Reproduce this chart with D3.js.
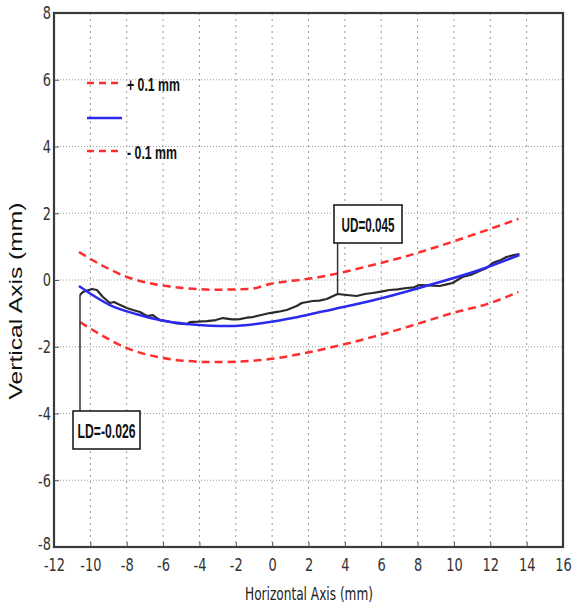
<!DOCTYPE html>
<html lang="en">
<head>
  <meta charset="UTF-8" />
  <title>Profile deviation</title>
  <script src="https://d3js.org/d3.v7.min.js"></script>
  <style>
    html, body { margin: 0; padding: 0; background: #fff; }
    svg { display: block; }
    .tick-label { font-family: 'DejaVu Sans', sans-serif; font-size: 18px; fill: #333; }
    .axis-title { font-family: 'DejaVu Sans', sans-serif; font-size: 17px; fill: #222; }
    .note { font-family: 'Liberation Sans', Arial, sans-serif; font-weight: bold; fill: #111; }
  </style>
</head>
<body>
  <div id="chart"></div>
  <script>
    // ticks
    const xTicks = [-12, -10, -8, -6, -4, -2, 0, 2, 4, 6, 8, 10, 12, 14, 16];
    const yTicks = [-8, -6, -4, -2, 0, 2, 4, 6, 8];

    // measured profile (black)
    const measX = [-10.57, -10.41, -9.91, -9.64, -9.31, -8.92, -8.7, -8.48, -7.99, -7.66, -7.27, -6.89, -6.56, -6.18, -5.79, -5.35, -4.69, -4.53, -4.1, -3.59, -3.1, -2.71, -2.2, -1.78, -1.4, -1.07, -0.6, -0.13, 0.35, 0.8, 1.35, 1.63, 2.23, 2.6, 3.0, 3.6, 4.1, 4.65, 5.1, 5.53, 6.0, 6.46, 6.9, 7.4, 7.8, 8.11, 8.6, 9.21, 9.6, 9.92, 10.47, 11.0, 11.41, 11.8, 12.12, 12.5, 12.89, 13.3, 13.6];
    const measY = [-0.45, -0.36, -0.27, -0.30, -0.51, -0.69, -0.66, -0.72, -0.84, -0.90, -0.96, -1.08, -1.05, -1.20, -1.23, -1.29, -1.32, -1.26, -1.25, -1.23, -1.20, -1.14, -1.18, -1.17, -1.13, -1.11, -1.05, -0.99, -0.95, -0.90, -0.78, -0.69, -0.63, -0.62, -0.57, -0.42, -0.45, -0.48, -0.42, -0.39, -0.35, -0.30, -0.28, -0.24, -0.22, -0.15, -0.16, -0.18, -0.13, -0.09, 0.09, 0.17, 0.27, 0.36, 0.51, 0.58, 0.69, 0.75, 0.78];

    // fitted profile (blue)
    const fitX = [-10.63, -8.92, -7.5, -6.18, -4.69, -3.4, -2.33, -0.13, 1.2, 2.62, 4.43, 6.29, 8.66, 11.4, 13.6];
    const fitY = [-0.18, -0.75, -1.02, -1.20, -1.32, -1.37, -1.38, -1.26, -1.13, -0.96, -0.75, -0.51, -0.15, 0.30, 0.75];

    // tolerance band +0.1 mm (upper red)
    const upX = [-10.63, -9.3, -7.98, -7.27, -6.1, -4.91, -3.2, -1.23, -0.13, 1.9, 2.62, 4.43, 5.53, 7.3, 9.04, 11.3, 13.55];
    const upY = [0.84, 0.42, 0.09, -0.03, -0.16, -0.24, -0.29, -0.27, -0.12, 0.03, 0.09, 0.30, 0.45, 0.70, 0.99, 1.40, 1.83];

    // tolerance band -0.1 mm (lower red)
    const loX = [-10.57, -9.3, -7.98, -5.99, -4.6, -3.26, -1.7, -0.13, 1.7, 3.55, 5.91, 7.9, 9.92, 12.0, 13.55];
    const loY = [-1.26, -1.68, -2.04, -2.34, -2.43, -2.46, -2.44, -2.37, -2.20, -1.98, -1.65, -1.33, -0.99, -0.69, -0.36];

    const legendItems = [
      { label: "+ 0.1 mm", kind: "upper", len: 53 },
      { label: "", kind: "fit", len: 0 },
      { label: "- 0.1 mm", kind: "lower", len: 50 }
    ];

    const width = 574, height = 609;
    const margin = { top: 13, right: 11, bottom: 62, left: 54 };
    const w = width - margin.left - margin.right;
    const h = height - margin.top - margin.bottom;
    const squeeze = 0.72; // narrow look of the original labels

    const svg = d3.select("#chart").append("svg")
      .attr("width", width)
      .attr("height", height);

    const g = svg.append("g")
      .attr("transform", `translate(${margin.left},${margin.top})`);

    const x = d3.scaleLinear().domain([-12, 16]).range([0, w]);
    const y = d3.scaleLinear().domain([-8, 8]).range([h, 0]);

    // grid
    g.selectAll(".vgrid")
      .data(xTicks.slice(1, -1))
      .join("line")
      .attr("x1", d => x(d)).attr("x2", d => x(d))
      .attr("y1", 0).attr("y2", h)
      .attr("stroke", "#9a9a9a")
      .attr("stroke-width", 1)
      .attr("stroke-dasharray", "2,4");

    g.selectAll(".hgrid")
      .data(yTicks.slice(1, -1))
      .join("line")
      .attr("x1", 0).attr("x2", w)
      .attr("y1", d => y(d)).attr("y2", d => y(d))
      .attr("stroke", "#9a9a9a")
      .attr("stroke-width", 1)
      .attr("stroke-dasharray", "1,2");

    // axes
    const xAxis = g.append("g")
      .attr("transform", `translate(0,${h})`)
      .call(d3.axisBottom(x).tickValues(xTicks).tickSize(-5).tickPadding(11).tickFormat(d => String(d)));
    const yAxis = g.append("g")
      .call(d3.axisLeft(y).tickValues(yTicks).tickSize(-5).tickPadding(6).tickFormat(d => String(d)));
    [xAxis, yAxis].forEach(a => {
      a.select(".domain").remove();
      a.selectAll(".tick line").attr("stroke", "#555");
      a.selectAll(".tick text").attr("class", "tick-label").attr("fill", null)
        .attr("transform", `scale(${squeeze},1)`);
    });
    yAxis.selectAll(".tick text").attr("x", -3 / squeeze)
      .attr("dy", d => d === -8 ? "0.12em" : "0.32em");

    // frame
    g.append("rect")
      .attr("x", 0).attr("y", 0)
      .attr("width", w).attr("height", h)
      .attr("fill", "none")
      .attr("stroke", "#3a3a3a")
      .attr("stroke-width", 2.2);

    const line = d3.line().x(d => x(d[0])).y(d => y(d[1]));
    const curve = d3.line().x(d => x(d[0])).y(d => y(d[1])).curve(d3.curveMonotoneX);

    // tolerance bands
    [d3.zip(upX, upY), d3.zip(loX, loY)].forEach(band => {
      g.append("path")
        .datum(band)
        .attr("d", curve)
        .attr("fill", "none")
        .attr("stroke", "#ff2e2e")
        .attr("stroke-width", 2.5)
        .attr("stroke-dasharray", "8,5");
    });

    // measured
    g.append("path")
      .datum(d3.zip(measX, measY))
      .attr("d", line)
      .attr("fill", "none")
      .attr("stroke", "#2a2a2a")
      .attr("stroke-width", 2.2)
      .attr("stroke-linejoin", "round");

    // fit
    g.append("path")
      .datum(d3.zip(fitX, fitY))
      .attr("d", curve)
      .attr("fill", "none")
      .attr("stroke", "#2b2bef")
      .attr("stroke-width", 2.5);

    // annotations
    function note(text, px, py, bx, by, bw, bh, tl) {
      g.append("line")
        .attr("x1", x(px)).attr("x2", x(px))
        .attr("y1", y(py)).attr("y2", by)
        .attr("stroke", "#333").attr("stroke-width", 1.5);
      g.append("rect")
        .attr("x", bx).attr("y", by)
        .attr("width", bw).attr("height", bh)
        .attr("fill", "#fff")
        .attr("stroke", "#111").attr("stroke-width", 1.5);
      g.append("text")
        .attr("class", "note")
        .attr("font-size", 21)
        .attr("x", bx + (bw - tl) / 2).attr("y", by + bh / 2 + 7.5)
        .attr("textLength", tl)
        .attr("lengthAdjust", "spacingAndGlyphs")
        .text(text);
    }
    note("UD=0.045", 3.6, -0.42, 334 - margin.left, 205 - margin.top, 68, 38, 53);
    note("LD=-0.026", -10.57, -0.45, 73 - margin.left, 411 - margin.top, 67, 38, 58);

    // legend
    const leg = g.selectAll(".leg")
      .data(legendItems)
      .join("g")
      .attr("transform", (d, i) => `translate(${87 - margin.left},${[83, 118, 151][i] - margin.top})`);
    leg.append("line")
      .attr("x1", 0).attr("x2", 35)
      .attr("stroke", d => d.kind === "fit" ? "#2b2bef" : "#ff2e2e")
      .attr("stroke-width", 2.5)
      .attr("stroke-dasharray", d => d.kind === "fit" ? null : "7,5");
    leg.filter(d => d.label).append("text")
      .attr("class", "note")
      .attr("font-size", 18)
      .attr("x", 40).attr("y", 8)
      .attr("textLength", d => d.len)
      .attr("lengthAdjust", "spacingAndGlyphs")
      .text(d => d.label);

    // axis titles
    svg.append("text")
      .attr("class", "axis-title")
      .attr("x", 245).attr("y", 600)
      .attr("textLength", 128)
      .attr("lengthAdjust", "spacingAndGlyphs")
      .text("Horizontal Axis (mm)");
    svg.append("text")
      .attr("transform", "translate(22,301) rotate(-90)")
      .attr("text-anchor", "middle")
      .attr("font-family", "'Liberation Sans', Arial, sans-serif")
      .attr("font-size", 18)
      .attr("fill", "#111")
      .attr("textLength", 197)
      .attr("lengthAdjust", "spacingAndGlyphs")
      .text("Vertical Axis (mm)");
  </script>
</body>
</html>
